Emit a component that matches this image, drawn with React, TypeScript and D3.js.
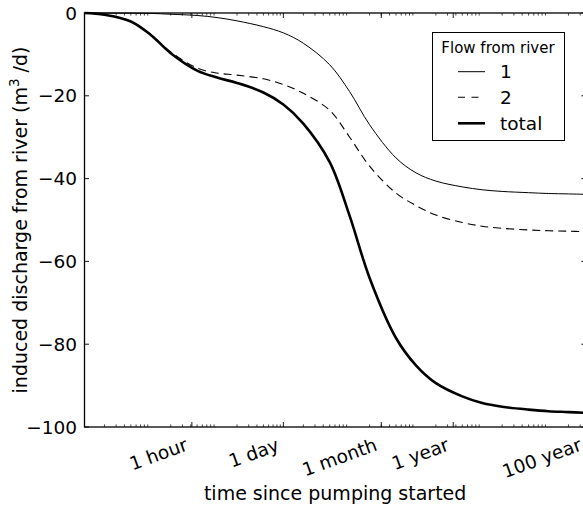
import React from "react";
import * as d3 from "d3";

// time since pumping started, in days
const times = [0.001, 0.002, 0.005, 0.01, 0.02, 0.05, 0.1, 0.2, 0.5, 1, 2, 5, 10, 20, 50, 100, 200, 500, 1000, 2000, 5000, 10000, 20000, 36525];
const flow1 = [0, -0.02, -0.05, -0.1, -0.3, -0.6, -1.1, -1.9, -3.3, -4.8, -7.3, -12.5, -19, -27, -35, -38.6, -40.6, -42, -42.7, -43.1, -43.4, -43.6, -43.7, -43.8];
const flow2 = [0, -0.4, -2.0, -5.2, -9.4, -13.3, -14.5, -15.0, -15.9, -17.3, -19.4, -23.5, -30, -37, -43.5, -46.5, -48.8, -50.6, -51.5, -52, -52.4, -52.6, -52.7, -52.8];
const flowTotal = [0, -0.42, -2.05, -5.3, -9.7, -13.9, -15.6, -16.9, -19.2, -22.1, -26.7, -36, -49, -64, -78.5, -85.1, -89.4, -92.6, -94.2, -95.1, -95.8, -96.2, -96.4, -96.6];

const xTickValues = [1 / 24, 1, 30, 365.25, 36525];
const xTickLabels = ["1 hour", "1 day", "1 month", "1 year", "100 year"];
const yTickValues = [0, -20, -40, -60, -80, -100];

const seriesNames = ["1", "2", "total"];

const W = 583;
const H = 509;
const FONT = "DejaVu Sans, sans-serif";

export default function App() {
  const left = 84.5;
  const right = 585.8;
  const top = 13;
  const bottom = 427;

  const x = d3.scaleLog().domain([0.001, 36525]).range([left, right]);
  const y = d3.scaleLinear().domain([-100, 0]).range([bottom, top]);

  const line = d3
    .line<[number, number]>()
    .x((d) => x(d[0]))
    .y((d) => y(d[1]))
    .curve(d3.curveCatmullRom.alpha(0.5));

  const mk = (vals: number[]) => line(times.map((t, i) => [t, vals[i]] as [number, number])) || "";

  // minor log ticks 2..9 of each decade
  const minor: number[] = [];
  for (let e = -3; e <= 4; e++) {
    for (let s = 2; s <= 9; s++) {
      const v = s * Math.pow(10, e);
      if (v >= 0.001 && v <= 36525) minor.push(v);
    }
  }

  const styles = [
    { w: 1, dash: undefined as string | undefined },
    { w: 1.1, dash: "8,5" },
    { w: 2.6, dash: undefined as string | undefined },
  ];
  const data = [flow1, flow2, flowTotal];

  const legX = 432.5;
  const legY = 32.5;
  const legRows = [71.7, 97.3, 123.3];

  return (
    <svg
      width={W}
      height={H}
      style={{ position: "absolute", left: 0, top: 0, background: "#fff" }}
      fontFamily={FONT}
    >
      <rect x={0} y={0} width={W} height={H} fill="#fff" />
      {data.map((vals, i) => (
        <path
          key={i}
          d={mk(vals)}
          fill="none"
          stroke="#000"
          strokeWidth={styles[i].w}
          strokeDasharray={styles[i].dash}
        />
      ))}
      <rect x={left} y={top} width={right - left} height={bottom - top} fill="none" stroke="#000" strokeWidth={1.3} />
      {minor.map((v, i) => (
        <g key={"m" + i} stroke="#000" strokeWidth={0.7}>
          <line x1={x(v)} x2={x(v)} y1={bottom} y2={bottom - 2.6} />
          <line x1={x(v)} x2={x(v)} y1={top} y2={top + 2.6} />
        </g>
      ))}
      {xTickValues.map((v, i) => (
        <g key={"M" + i}>
          <line x1={x(v)} x2={x(v)} y1={bottom} y2={bottom - 5} stroke="#000" strokeWidth={0.9} />
          <line x1={x(v)} x2={x(v)} y1={top} y2={top + 5} stroke="#000" strokeWidth={0.9} />
          <text
            x={x(v) - 3}
            y={450}
            fontSize={18.5}
            textAnchor="end"
            transform={`rotate(-20, ${x(v) - 3}, 450)`}
            fill="#000"
          >
            {xTickLabels[i]}
          </text>
        </g>
      ))}
      {yTickValues.map((v, i) => (
        <g key={"y" + i}>
          <line x1={left} x2={left + 4.5} y1={y(v)} y2={y(v)} stroke="#000" strokeWidth={0.9} />
          <line x1={right} x2={right - 4.5} y1={y(v)} y2={y(v)} stroke="#000" strokeWidth={0.9} />
          <text x={77} y={y(v)} fontSize={18.5} textAnchor="end" dominantBaseline="central" fill="#000">
            {v < 0 ? "\u2212" + Math.abs(v) : String(v)}
          </text>
        </g>
      ))}
      <text x={(left + right) / 2} y={500} fontSize={19} textAnchor="middle" fill="#000">
        time since pumping started
      </text>
      <text
        x={0}
        y={0}
        fontSize={19}
        textAnchor="middle"
        transform={`translate(27, ${(top + bottom) / 2}) rotate(-90)`}
        fill="#000"
      >
        induced discharge from river (m
        <tspan fontSize={13.5} dy={-8}>3</tspan>
        <tspan dy={8}> /d)</tspan>
      </text>
      <rect x={legX} y={legY} width={132} height={108} fill="#fff" stroke="#000" strokeWidth={1} />
      <text x={498} y={47.5} fontSize={15} textAnchor="middle" dominantBaseline="central" fill="#000">
        Flow from river
      </text>
      {seriesNames.map((n, i) => (
        <g key={"l" + i}>
          <line
            x1={458}
            x2={485}
            y1={legRows[i]}
            y2={legRows[i]}
            stroke="#000"
            strokeWidth={styles[i].w}
            strokeDasharray={i === 1 ? "7,6.5" : undefined}
          />
          <text x={500} y={legRows[i]} fontSize={18.5} dominantBaseline="central" fill="#000">
            {n}
          </text>
        </g>
      ))}
    </svg>
  );
}
